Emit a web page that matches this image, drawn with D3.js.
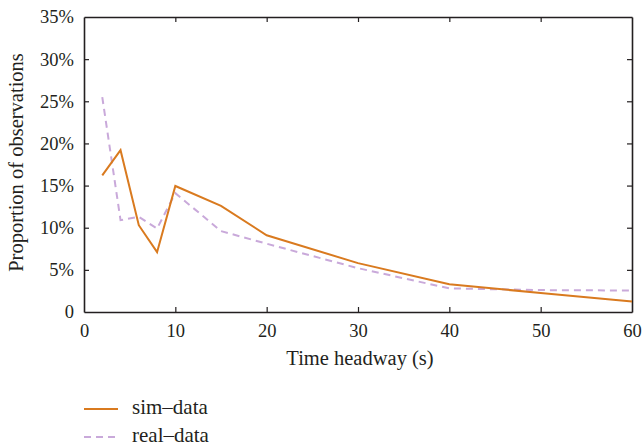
<!DOCTYPE html>
<html>
<head>
<meta charset="utf-8">
<script src="https://cdn.jsdelivr.net/npm/d3@7"></script>
<style>
  body { margin: 0; background: #fff; }
  svg text { font-family: "Liberation Serif", "DejaVu Serif", serif; fill: #231f20; }
</style>
</head>
<body>
<svg id="chart" width="644" height="447"></svg>
<script>
const headway = [2, 4, 6, 8, 10, 15, 20, 30, 40, 50, 60];
const simData = [16.2, 19.2, 10.3, 7.1, 14.95, 12.6, 9.1, 5.8, 3.3, 2.25, 1.25];
const realData = [25.5, 10.9, 11.3, 9.9, 14.1, 9.6, 8.1, 5.2, 2.8, 2.6, 2.55];
const xTicks = [0, 10, 20, 30, 40, 50, 60];
const yTicks = [0, 5, 10, 15, 20, 25, 30, 35];
const seriesNames = ["sim\u2013data", "real\u2013data"];

const svg = d3.select("#chart");
const L = 84, R = 632, T = 17, B = 312;
const x = d3.scaleLinear().domain([0, 60]).range([L, R]);
const y = d3.scaleLinear().domain([0, 35]).range([B, T]);
const axisColor = "#231f20";
const fs = 18.5;

const gB = svg.append("g").attr("transform", `translate(0,${B})`)
  .call(d3.axisBottom(x).tickValues(xTicks).tickSizeInner(-5).tickSizeOuter(0).tickPadding(12)
    .tickFormat(d3.format("d")));
const gT = svg.append("g").attr("transform", `translate(0,${T})`)
  .call(d3.axisTop(x).tickValues(xTicks).tickSizeInner(-5).tickSizeOuter(0).tickFormat(""));
const gL = svg.append("g").attr("transform", `translate(${L},0)`)
  .call(d3.axisLeft(y).tickValues(yTicks).tickSizeInner(-5).tickSizeOuter(0).tickPadding(10)
    .tickFormat(d => d === 0 ? "0" : d + "%"));
const gR = svg.append("g").attr("transform", `translate(${R},0)`)
  .call(d3.axisRight(y).tickValues(yTicks).tickSizeInner(-5).tickSizeOuter(0).tickFormat(""));

[gB, gT, gL, gR].forEach(g => {
  g.selectAll("path.domain").attr("stroke", axisColor).attr("stroke-width", 1.6);
  g.selectAll(".tick line").attr("stroke", axisColor).attr("stroke-width", 1.2);
  g.selectAll("text").attr("font-size", fs).attr("fill", axisColor)
    .style("font-family", "'Liberation Serif', 'DejaVu Serif', serif");
});
gB.selectAll(".tick").filter(d => d === 0 || d === 60).select("line").remove();
gT.selectAll(".tick").filter(d => d === 0 || d === 60).select("line").remove();
gL.selectAll(".tick").filter(d => d === 0 || d === 35).select("line").remove();
gR.selectAll(".tick").filter(d => d === 0 || d === 35).select("line").remove();

const line = d3.line().x((d, i) => x(headway[i])).y(d => y(d));
const colors = ["#d97a1f", "#c9a9da"];

svg.append("path").datum(realData).attr("d", line)
  .attr("fill", "none").attr("stroke", colors[1]).attr("stroke-width", 2)
  .attr("stroke-dasharray", "7,5");
svg.append("path").datum(simData).attr("d", line)
  .attr("fill", "none").attr("stroke", colors[0]).attr("stroke-width", 2);

svg.append("text").attr("x", 360).attr("y", 360).attr("text-anchor", "middle")
  .attr("dominant-baseline", "middle").attr("font-size", 20.5).text("Time headway (s)");
svg.append("text").attr("transform", `translate(18,${(T + B) / 2 - 2}) rotate(-90)`)
  .attr("text-anchor", "middle").attr("dominant-baseline", "middle")
  .attr("font-size", 20.5).text("Proportion of observations");

const leg = svg.append("g");
seriesNames.forEach((name, i) => {
  const yy = 409 + i * 28;
  leg.append("line").attr("x1", 84).attr("x2", 118).attr("y1", yy).attr("y2", yy)
    .attr("stroke", colors[i]).attr("stroke-width", 2)
    .attr("stroke-dasharray", i === 1 ? "7,5" : null);
  leg.append("text").attr("x", 132).attr("y", yy).attr("dominant-baseline", "middle")
    .attr("font-size", 21).text(name);
});
</script>
</body>
</html>
